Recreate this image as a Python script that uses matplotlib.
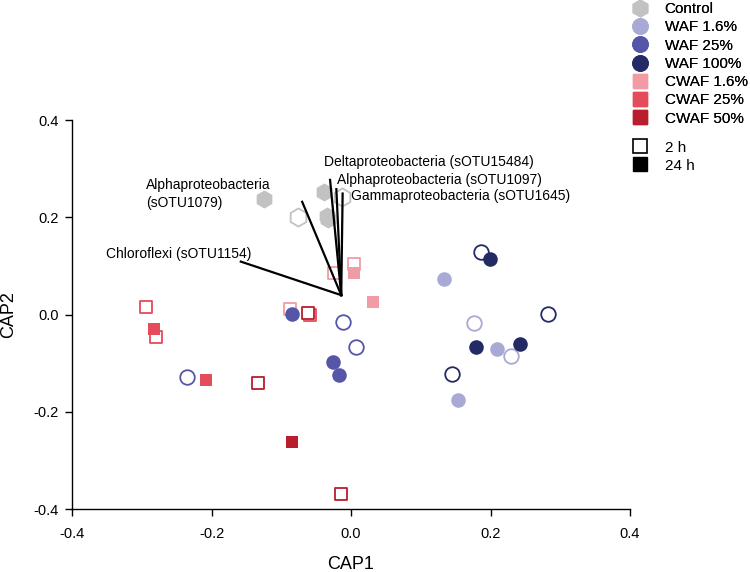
import matplotlib.pyplot as plt
from matplotlib.lines import Line2D

plt.rcParams['font.family'] = ['Liberation Sans', 'DejaVu Sans']

groups = ['Control', 'WAF 1.6%', 'WAF 25%', 'WAF 100%', 'CWAF 1.6%', 'CWAF 25%', 'CWAF 50%']
colors = ['#c2c2c2', '#a9a9d5', '#5656a8', '#232a64', '#f19ca5', '#e44b5b', '#b81e2e']
markers = ['h', 'o', 'o', 'o', 's', 's', 's']

# 24 h samples (filled)
x24 = [[-0.125, -0.039, -0.035, -0.033],
       [0.133, 0.210, 0.154],
       [-0.084, -0.026, -0.017],
       [0.199, 0.179, 0.242],
       [0.004, 0.031],
       [-0.282, -0.208],
       [-0.085]]
y24 = [[0.237, 0.253, 0.203, 0.197],
       [0.074, -0.070, -0.176],
       [0.002, -0.098, -0.124],
       [0.114, -0.066, -0.061],
       [0.086, 0.026],
       [-0.030, -0.135],
       [-0.262]]

# 2 h samples (open)
x2 = [[-0.013, -0.076],
      [0.177, 0.230],
      [-0.235, -0.012, 0.007],
      [0.186, 0.283, 0.145],
      [-0.088, -0.024, 0.004],
      [-0.294, -0.280, -0.059],
      [-0.062, -0.133, -0.015]]
y2 = [[0.242, 0.200],
      [-0.017, -0.085],
      [-0.129, -0.015, -0.067],
      [0.128, 0.001, -0.122],
      [0.011, 0.086, 0.104],
      [0.016, -0.047, 0.000],
      [0.004, -0.140, -0.370]]

# CAP vectors
origin = (-0.014, 0.040)
vec_x = [-0.158, -0.070, -0.030, -0.021, -0.012]
vec_y = [0.109, 0.232, 0.277, 0.258, 0.249]
vec_labels = ['Chloroflexi (sOTU1154)', 'Alphaproteobacteria\n(sOTU1079)',
              'Deltaproteobacteria (sOTU15484)', 'Alphaproteobacteria (sOTU1097)',
              'Gammaproteobacteria (sOTU1645)']
label_x = [-0.351, -0.294, -0.039, -0.020, 0.000]
label_y = [0.124, 0.248, 0.314, 0.277, 0.243]

fig = plt.figure(figsize=(7.5, 5.72), dpi=100)
ax = fig.add_axes([0.096, 0.110, 0.744, 0.680])

for i in range(len(groups)):
    s = {'h': 170, 'o': 110, 's': 85}[markers[i]]
    ax.scatter(x2[i], y2[i], s=s, marker=markers[i], facecolor='white',
               edgecolor=colors[i], linewidth=1.3, zorder=2)
    ax.scatter(x24[i], y24[i], s=s, marker=markers[i], color=colors[i],
               linewidth=0, zorder=3)

for i in range(len(vec_x)):
    ax.plot([origin[0], vec_x[i]], [origin[1], vec_y[i]], color='black', lw=1.6, zorder=4)
    ax.text(label_x[i], label_y[i], vec_labels[i], fontsize=10, ha='left', va='center',
            linespacing=1.4)

ax.set_xlim(-0.4, 0.4)
ax.set_ylim(-0.4, 0.4)
ax.set_xticks([-0.4, -0.2, 0.0, 0.2, 0.4])
ax.set_yticks([-0.4, -0.2, 0.0, 0.2, 0.4])
ax.set_xticklabels(['-0.4', '-0.2', '0.0', '0.2', '0.4'])
ax.set_yticklabels(['-0.4', '-0.2', '0.0', '0.2', '0.4'])
ax.tick_params(labelsize=10.5, length=5, width=1, direction='out')
ax.tick_params(axis='x', pad=8)
ax.tick_params(axis='y', pad=4.5)
ax.spines['top'].set_visible(False)
ax.spines['right'].set_visible(False)
ax.spines['left'].set_linewidth(1)
ax.spines['bottom'].set_linewidth(1)
ax.set_xlabel('CAP1', fontsize=13, labelpad=11)
ax.set_ylabel('CAP2', fontsize=13, labelpad=12)

handles = [Line2D([], [], marker=markers[i], color=colors[i], linestyle='none',
                  markersize={'h': 12, 'o': 11, 's': 10}[markers[i]]) for i in range(len(groups))]
leg1 = fig.legend(handles, groups, loc='upper left', bbox_to_anchor=(0.825, 1.007),
                  frameon=False, fontsize=11, handletextpad=0.6, labelspacing=0.28,
                  borderaxespad=0)
time_handles = [Line2D([], [], marker='s', markerfacecolor='white', markeredgecolor='black',
                       linestyle='none', markersize=10, markeredgewidth=1.2),
                Line2D([], [], marker='s', color='black', linestyle='none', markersize=10)]
fig.legend(time_handles, ['2 h', '24 h'], loc='upper left', bbox_to_anchor=(0.825, 0.765),
           frameon=False, fontsize=11, handletextpad=0.6, labelspacing=0.28, borderaxespad=0)
fig.add_artist(leg1)

fig.savefig('out.png', dpi=100)
